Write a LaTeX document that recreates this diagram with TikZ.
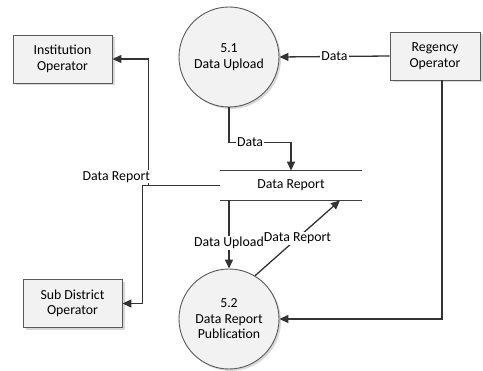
\documentclass[tikz,border=0pt]{standalone}
\usepackage{fontspec}
\setmainfont{Carlito}
\usetikzlibrary{shapes, arrows.meta, positioning, shadows}

\tikzset{
  entity/.style={draw=black!65, rectangle, fill=gray!10, align=center,
    minimum width=99pt, minimum height=48pt, line width=0.9pt,
    drop shadow={shadow xshift=2.5pt, shadow yshift=-2.5pt, fill=gray!60}},
  process/.style={draw=black!65, circle, fill=gray!10, align=center,
    minimum size=100pt, inner sep=0pt, line width=0.9pt,
    drop shadow={shadow xshift=2pt, shadow yshift=-2pt, fill=gray!60}},
  flow/.style={->, draw=black!80, line width=1.3pt},
  lbl/.style={fill=white, inner sep=1pt}
}

\begin{document}
\begin{tikzpicture}[x=1pt, y=-1pt, thick, >={Triangle[length=9pt,width=8pt]},
    font=\fontsize{13.8}{15.5}\selectfont]
        \useasboundingbox (0,0) rectangle (483,371);
        % entities, processes and data store
        \node (inst) [entity] at (62.5,59) {Institution\\Operator};
        \node (reg) [entity, minimum width=90pt] at (435,56) {Regency\\Operator};
        \node (sub) [entity] at (72.5,303.5) {Sub District\\Operator};
        \node (p1) [process] at (229,57) {5.1\\Data Upload};
        \node (p2) [process] at (229,319) {5.2\\Data Report\\Publication};
        \node (store) [minimum width=142pt, minimum height=29pt] at (291,185.5) {Data Report};
        \draw[black!75, line width=1.5pt] (store.north west) -- (store.north east);
        \draw[black!75, line width=1.5pt] (store.south west) -- (store.south east);

        \draw[flow] (reg.west) -- node[lbl] {Data} (p1.east);
        \draw[flow] (p1.south) |- node[lbl, pos=0.67] {Data} ([yshift=28pt]store.north) -- (store.north);
        \draw[flow] (store.west) -- ++(-77,0) |- (sub.east);
        \draw[flow] (store.west) -- ++(-71,0) |- node[lbl, pos=0.034, anchor=east, xshift=3pt] {Data Report} (inst.east);
        \draw[flow] (p2.north |- store.south) -- node[lbl, pos=0.62] {Data Upload} (p2.north);
        \draw[flow] (p2.59) -- node[lbl] {Data Report} ([xshift=49pt]store.south);
        \draw[flow] ([xshift=7pt]reg.south) |- (p2.east);
    \end{tikzpicture}
\end{document}
